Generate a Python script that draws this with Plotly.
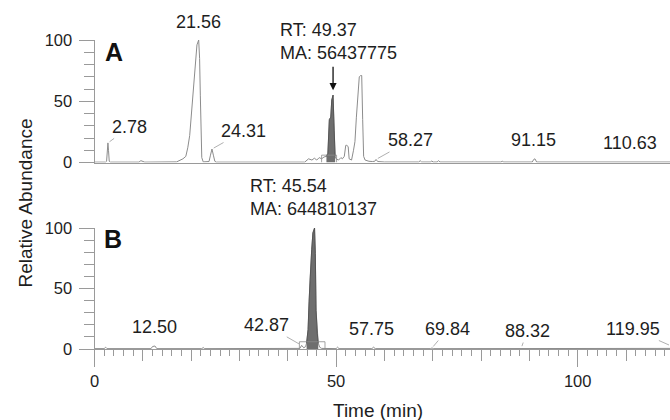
import numpy as np
import plotly.graph_objects as go

# ---------------- data ----------------
a_time = [0.0, 2.3, 2.5, 2.65, 2.78, 2.9, 3.05, 3.3, 9.2, 9.6, 10.0, 10.4,
          17.0, 17.6, 18.3, 18.9, 19.3, 19.7, 20.0, 20.4, 20.8, 21.2, 21.56, 21.75,
          21.9, 22.05, 22.2, 22.5, 23.7, 24.0, 24.31, 24.6, 24.9, 25.2,
          43.5, 44.3, 44.7, 45.0, 45.5, 46.0, 46.5, 47.0, 47.5, 48.0, 48.3, 48.6,
          48.9, 49.1, 49.37, 49.6, 49.8, 50.0, 50.5, 51.0, 51.3, 51.7, 52.0, 52.2,
          52.5, 52.7, 53.2, 53.6, 53.9, 54.2, 54.5, 54.8, 55.1, 55.3, 55.5, 55.7,
          56.0, 56.4, 56.8, 57.5, 58.0, 58.27, 58.6, 60.0, 67.1, 67.4, 67.7, 69.5,
          69.8, 70.1, 70.9, 71.2, 71.5, 84.1, 84.4, 84.7, 90.6, 90.9, 91.15, 91.5,
          110.3, 110.63, 111.0, 120.0]
a_abund = [0.3, 0.3, 1.0, 10.0, 16.0, 10.0, 1.0, 0.3, 0.3, 1.5, 1.2, 0.3,
           0.5, 1.5, 3.0, 5.0, 12.0, 22.0, 38.0, 58.0, 78.0, 96.0, 100.0, 85.0,
           55.0, 20.0, 4.0, 0.5, 0.8, 6.0, 11.0, 6.0, 1.0, 0.3,
           0.3, 3.0, 2.5, 2.0, 3.5, 2.0, 4.0, 3.0, 4.5, 5.0, 7.5, 35.0,
           37.0, 51.0, 55.0, 26.0, 5.0, 3.0, 2.0, 4.0, 3.0, 5.0, 14.0, 14.0,
           13.0, 3.0, 2.0, 10.0, 17.0, 37.0, 58.0, 70.0, 71.0, 71.0, 35.0, 5.0,
           2.0, 1.5, 1.0, 0.8, 1.0, 2.5, 0.8, 0.4, 0.4, 1.5, 0.4, 0.4,
           1.2, 0.4, 0.4, 1.5, 0.4, 0.4, 1.0, 0.4, 0.4, 2.5, 3.0, 0.4,
           0.4, 0.6, 0.4, 0.4]

b_time = [0.0, 2.0, 2.3, 2.6, 11.7, 12.0, 12.5, 12.9, 22.2, 22.5, 22.8,
          42.5, 42.87, 43.3, 43.7, 43.9, 44.2, 44.4, 44.6, 44.95, 45.2, 45.54,
          45.7, 45.85, 46.1, 46.3, 46.6, 47.0, 50.0, 50.3, 50.6, 57.4, 57.75,
          58.1, 69.5, 69.84, 70.2, 88.0, 88.32, 88.6, 120.0]
b_abund = [0.3, 0.3, 1.5, 0.3, 0.3, 2.0, 2.5, 0.3, 0.3, 1.2, 0.3,
           0.5, 3.0, 1.0, 2.0, 5.0, 16.0, 39.0, 57.0, 82.0, 96.0, 100.0,
           79.0, 32.0, 13.0, 5.0, 1.5, 0.5, 0.3, 1.5, 0.3, 0.3, 1.5,
           0.3, 0.3, 0.8, 0.3, 0.3, 0.8, 0.3, 0.5]

a_peak_labels = [2.78, 21.56, 24.31, 58.27, 91.15, 110.63]
b_peak_labels = [12.50, 42.87, 57.75, 69.84, 88.32, 119.95]
a_target_rt, a_target_area = 49.37, 56437775
b_target_rt, b_target_area = 45.54, 644810137
a_shade = [48.0, 49.9]
b_shade = [43.8, 46.5]
a_window = [47.0, 50.1, 6.0]
b_window = [42.4, 47.7, 6.0]
panel_names = ["A", "B"]
x_ticks = [0, 50, 100]
y_ticks = [0, 50, 100]

# ---------------- layout helpers ----------------
W, H = 670, 420
X0PX, PXPERMIN = 94.5, 4.832
XMAX = (W - X0PX) / PXPERMIN
FONT = "Arial, Liberation Sans, sans-serif"
TXT = "#1e1e1e"
AX = "#9a9a9a"


def px(x):
    return x / W


def py(y):
    return 1 - y / H


fig = go.Figure()

# traces for panel A (x, y) and B (x2, y2)
for t, a, shade, win, xa, ya in [(a_time, a_abund, a_shade, a_window, "x", "y"),
                                  (b_time, b_abund, b_shade, b_window, "x2", "y2")]:
    t = np.array(t)
    a = np.array(a)
    fig.add_trace(go.Scatter(x=t, y=a, mode="lines", xaxis=xa, yaxis=ya,
                             line=dict(color="#8c8c8c", width=1), hoverinfo="skip"))
    m = (t >= shade[0]) & (t <= shade[1])
    fig.add_trace(go.Scatter(x=t[m], y=a[m], mode="lines", fill="tozeroy", xaxis=xa, yaxis=ya,
                             fillcolor="#6e6e6e", line=dict(color="#4a4a4a", width=0.8),
                             hoverinfo="skip"))
    fig.add_trace(go.Scatter(x=[win[0], win[0], win[1], win[1]], y=[0, win[2], win[2], 0],
                             mode="lines", xaxis=xa, yaxis=ya,
                             line=dict(color="#8c8c8c", width=0.8), hoverinfo="skip"))
# invisible trace for medium-tick overlay axis
fig.add_trace(go.Scatter(x=[0], y=[0], xaxis="x3", yaxis="y2", mode="markers",
                         marker=dict(opacity=0), hoverinfo="skip"))

ydomA = [py(162.5), py(40)]
ydomB = [py(349), py(228)]
xdom = [px(X0PX), 1]

yax = dict(range=[0, 100], tickvals=y_ticks, ticks="outside", ticklen=15, tickwidth=1,
           tickcolor=AX, showline=True, linecolor=AX, linewidth=1, showgrid=False,
           zeroline=False, automargin=False, ticklabelstandoff=3,
           tickfont=dict(size=16.5, color=TXT, family=FONT),
           minor=dict(dtick=10, ticks="outside", ticklen=10, tickcolor=AX, showgrid=False))

fig.update_layout(
    width=W, height=H, margin=dict(l=0, r=0, t=0, b=0, autoexpand=False),
    paper_bgcolor="white", plot_bgcolor="white", showlegend=False,
    font=dict(family=FONT, color=TXT),
    xaxis=dict(domain=xdom, anchor="y", range=[0, XMAX], showline=True, linecolor=AX,
               linewidth=1, ticks="", showticklabels=False, showgrid=False, zeroline=False,
               automargin=False),
    yaxis=dict(domain=ydomA, anchor="x", **yax),
    xaxis2=dict(domain=xdom, anchor="y2", range=[0, XMAX], showline=True, linecolor=AX,
                linewidth=1, tickvals=x_ticks, ticks="outside", ticklen=17, tickwidth=1,
                tickcolor=AX, showgrid=False, zeroline=False, automargin=False,
                tickfont=dict(size=16.5, color=TXT, family=FONT),
                minor=dict(dtick=2, ticks="outside", ticklen=6, tickcolor=AX, showgrid=False)),
    xaxis3=dict(domain=xdom, anchor="y2", overlaying="x2", range=[0, XMAX], dtick=10,
                ticks="outside", ticklen=11, tickwidth=1, tickcolor=AX, automargin=False,
                showticklabels=False, showgrid=False, zeroline=False, showline=False),
    yaxis2=dict(domain=ydomB, anchor="x2", **yax),
)

ann = []
lab_font = dict(size=18, color=TXT, family=FONT)
LEAD = "#b0b0b0"

# text-centre offsets (px) from each apex, and whether a leader line is drawn
a_offsets = [(22, -16, True), (0, -18, False), (32, -18, True), (34, -19, True),
             (-1, -19, False), (1, -19, False)]
b_offsets = [(0, -19, False), (-35, -20, True), (-2, -18, False), (16, -19, True),
             (6, -17, True), (None, None, True)]

for labels, offs, t, a, xr, yr in [(a_peak_labels, a_offsets, a_time, a_abund, "x", "y"),
                                   (b_peak_labels, b_offsets, b_time, b_abund, "x2", "y2")]:
    for rt, (dx, dy, lead) in zip(labels, offs):
        h = float(np.interp(rt, t, a))
        txt = f"{rt:.2f}"
        if dx is None:
            # apex lies just beyond the right edge of the plot
            ann.append(dict(x=1, xref="paper", y=3.3, yref=yr, text=txt, showarrow=True,
                            arrowhead=0, arrowwidth=1, arrowcolor=LEAD, ax=-37, ay=-16,
                            font=lab_font))
        elif lead:
            ann.append(dict(x=rt, xref=xr, y=h, yref=yr, text=txt, showarrow=True,
                            arrowhead=0, arrowwidth=1, arrowcolor=LEAD, ax=dx, ay=dy,
                            standoff=2, font=lab_font))
        else:
            ann.append(dict(x=rt, xref=xr, y=h, yref=yr, text=txt, showarrow=False,
                            xanchor="center", yanchor="middle",
                            xshift=dx, yshift=-dy, font=lab_font))

# target peak annotations
a_h = float(np.interp(a_target_rt, a_time, a_abund))
b_h = float(np.interp(b_target_rt, b_time, b_abund))
ann.append(dict(x=a_target_rt, xref="x", y=a_h, yref="y",
                text=f"RT: {a_target_rt:.2f}<br>MA: {a_target_area}", showarrow=False,
                xanchor="left", yanchor="middle", align="left", xshift=-55, yshift=54,
                font=lab_font))
ann.append(dict(x=a_target_rt, xref="x", y=a_h, yref="y", text="", showarrow=True,
                arrowhead=2, arrowsize=1.1, arrowwidth=1.3, arrowcolor="#111",
                ax=0, ay=-30, standoff=5))
ann.append(dict(x=b_target_rt, xref="x2", y=b_h, yref="y2",
                text=f"RT: {b_target_rt:.2f}<br>MA: {b_target_area}", showarrow=False,
                xanchor="left", yanchor="middle", align="left", xshift=-66.5, yshift=30,
                font=lab_font))

# panel letters
for name, (xp, yp) in zip(panel_names, [(113.5, 52), (113, 239)]):
    ann.append(dict(x=px(xp), y=py(yp), xref="paper", yref="paper", text=f"<b>{name}</b>",
                    xanchor="center", yanchor="middle",
                    showarrow=False, font=dict(size=25, color="#111", family=FONT)))

# axis titles
ann.append(dict(x=px(25), y=py(203.5), xref="paper", yref="paper", text="Relative Abundance",
                xanchor="center", yanchor="middle",
                textangle=-90, showarrow=False, font=dict(size=19, color=TXT, family=FONT)))
ann.append(dict(x=px(377.5), y=py(410), xref="paper", yref="paper", text="Time (min)",
                xanchor="center", yanchor="middle",
                showarrow=False, font=dict(size=19, color=TXT, family=FONT)))

fig.update_layout(annotations=ann)
fig.write_html("out.html")
